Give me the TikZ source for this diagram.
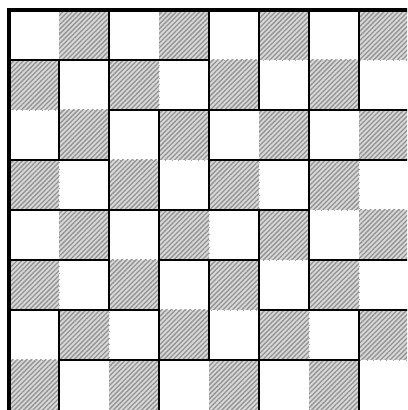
\documentclass[tikz,border=0pt]{standalone}
\usepackage{tikz}
\usetikzlibrary{patterns.meta}

\begin{document}
\begin{tikzpicture}[
    hatchcell/.style={pattern={Lines[angle=45, distance=1.9pt, line width=0.75pt]}, pattern color=gray!85},
    gridline/.style={gray!70, line width=0.4pt, dash pattern=on 0.5pt off 3.2pt},
    wall/.style={line width=1.3pt, line cap=rect},
    border/.style={line width=1.9pt, line cap=rect}]
\useasboundingbox (-0.18,0) rectangle (7.96,8.2);
\clip (-0.18,0) rectangle (7.96,8.2);
% shaded squares
\foreach \c in {0,...,7}
  \foreach \r in {0,...,7} {
    \ifodd\numexpr\c+\r\relax
      \fill[gray!30] (\c,8-\r) rectangle ++(1,-1);
      \fill[hatchcell] (\c,8-\r) rectangle ++(1,-1);
    \fi
  }
% faint grid
\foreach \i in {1,...,7} {
  \draw[gridline] (\i,0) -- (\i,8);
  \draw[gridline] (0,\i) -- (8,\i);
}
% domino walls
\foreach \x/\ya/\yb in {1/7/5, 1/2/0, 2/8/2, 3/6/0, 4/8/4, 4/3/1,
                        5/8/6, 5/4/0, 6/8/2, 7/8/6, 7/2/0}
  \draw[wall] (\x,\ya) -- (\x,\yb);
\foreach \y/\xa/\xb in {7/0/4, 6/2/8, 5/0/2, 5/4/8, 4/0/6,
                        3/0/2, 3/3/5, 3/6/8, 2/0/3, 2/5/8, 1/1/7}
  \draw[wall] (\xa,\y) -- (\xb,\y);
\draw[border] (0,0) -- (0,8) -- (8,8);
\end{tikzpicture}
\end{document}
